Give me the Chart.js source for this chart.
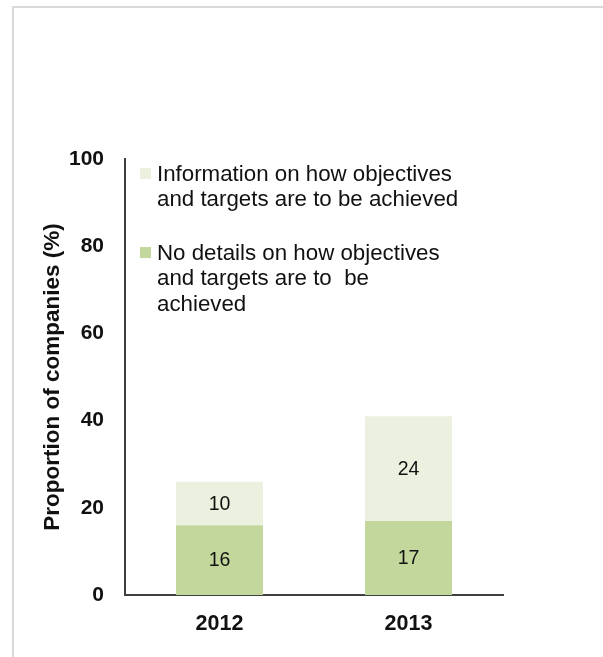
<!DOCTYPE html>
<html>
<head>
<meta charset="utf-8">
<script src="https://cdn.jsdelivr.net/npm/chart.js@4"></script>
<style>
  html, body { margin: 0; padding: 0; background: #fff; }
  #wrap { position: relative; width: 603px; height: 657px; }
</style>
</head>
<body>
<div id="wrap"><canvas id="chart" width="603" height="657"></canvas></div>
<script>
const years = ['2012', '2013'];
const noDetails = [16, 17];
const withInfo = [10, 24];
const yTicks = [0, 20, 40, 60, 80, 100];

const seriesNames = [
  ['Information on how objectives', 'and targets are to be achieved'],
  ['No details on how objectives', 'and targets are to  be', 'achieved']
];
const seriesColors = ['#EBF1DE', '#C3D69B'];

const FONT = '"Liberation Sans", Arial, sans-serif';

// white page with a thin grey frame on the top and left edges
const framePlugin = {
  id: 'frame',
  beforeDraw(chart) {
    const { ctx, width, height } = chart;
    ctx.save();
    ctx.fillStyle = '#fff';
    ctx.fillRect(0, 0, width, height);
    ctx.fillStyle = '#d9d9d9';
    ctx.fillRect(12, 6, width - 12, 2);
    ctx.fillRect(12, 6, 2, height - 6);
    ctx.restore();
  }
};

// value printed in the middle of each stacked segment
const segmentLabels = {
  id: 'segmentLabels',
  afterDatasetsDraw(chart) {
    const { ctx } = chart;
    ctx.save();
    ctx.font = '19.5px ' + FONT;
    ctx.fillStyle = '#111';
    ctx.textAlign = 'center';
    ctx.textBaseline = 'middle';
    chart.data.datasets.forEach((ds, i) => {
      chart.getDatasetMeta(i).data.forEach((bar, j) => {
        const mid = (bar.y + bar.base) / 2;
        ctx.fillText(String(ds.data[j]), bar.x, mid + 1);
      });
    });
    ctx.restore();
  }
};

// wrapped legend placed inside the plot, top-left
const boxLegend = {
  id: 'boxLegend',
  afterDraw(chart) {
    const { ctx, chartArea } = chart;
    const x0 = chartArea.left + 15;
    const lineGap = 25.3;
    let y = chartArea.top + 22;
    ctx.save();
    ctx.font = '22.3px ' + FONT;
    ctx.textAlign = 'left';
    ctx.textBaseline = 'alphabetic';
    seriesNames.forEach((lines, i) => {
      ctx.fillStyle = seriesColors[i];
      ctx.fillRect(x0, y - 13, 11, 11);
      ctx.fillStyle = '#111';
      lines.forEach((line, k) => {
        ctx.fillText(line, x0 + 17, y + k * lineGap);
      });
      y += lines.length * lineGap + 28.5;
    });
    ctx.restore();
  }
};

new Chart(document.getElementById('chart'), {
  type: 'bar',
  data: {
    labels: years,
    datasets: [
      {
        label: seriesNames[1].join(' '),
        data: noDetails,
        backgroundColor: seriesColors[1],
        borderWidth: 0
      },
      {
        label: seriesNames[0].join(' '),
        data: withInfo,
        backgroundColor: seriesColors[0],
        borderWidth: 0
      }
    ]
  },
  options: {
    responsive: false,
    animation: false,
    layout: { padding: { top: 159, right: 100, left: 0, bottom: 0 } },
    categoryPercentage: 1,
    barPercentage: 0.46,
    plugins: {
      legend: { display: false },
      tooltip: { enabled: false }
    },
    scales: {
      x: {
        stacked: true,
        grid: { display: false },
        border: { display: true, color: '#404040', width: 2 },
        ticks: {
          color: '#111',
          font: { family: FONT, size: 21.5, weight: 'bold' },
          padding: 8
        },
        afterFit(scale) { scale.height = 62; }
      },
      y: {
        stacked: true,
        min: 0,
        max: 100,
        grid: { display: false },
        border: { display: true, color: '#404040', width: 2 },
        afterBuildTicks(scale) {
          scale.ticks = yTicks.map(v => ({ value: v }));
        },
        ticks: {
          color: '#111',
          font: { family: FONT, size: 21, weight: 'bold' },
          padding: 13
        },
        title: {
          display: true,
          text: 'Proportion of companies (%)',
          color: '#111',
          font: { family: FONT, size: 22.5, weight: 'bold' },
          padding: { top: 39, bottom: 0 }
        },
        afterFit(scale) { scale.width = 125; }
      }
    }
  },
  plugins: [framePlugin, segmentLabels, boxLegend]
});
</script>
</body>
</html>
